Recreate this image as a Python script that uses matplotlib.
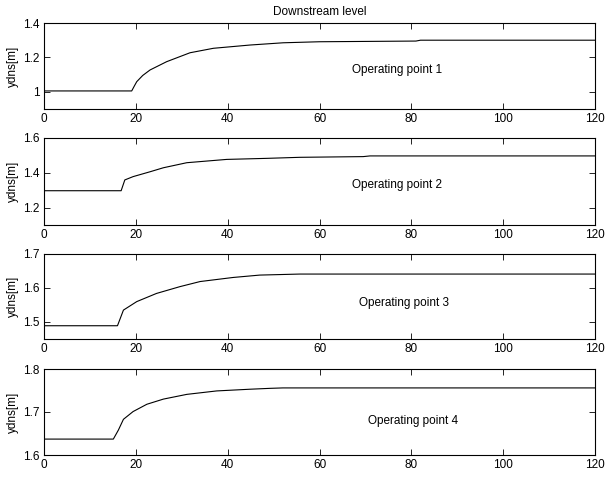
import matplotlib.pyplot as plt

plt.rcParams['font.family'] = ['Liberation Sans', 'DejaVu Sans']
plt.rcParams['font.size'] = 8.5

# time [s] / level [m], one set per operating point
t1 = [0, 19.1, 19.7, 20.2, 21.5, 23.1, 26.7, 31.8, 36.9, 44.9, 52.1, 60, 81, 82, 120]
y1 = [1.005, 1.005, 1.035, 1.059, 1.095, 1.127, 1.175, 1.227, 1.253, 1.272, 1.285, 1.291, 1.295, 1.300, 1.300]

t2 = [0, 16.8, 17.6, 19.4, 23.1, 26, 31.1, 39.8, 48.5, 55.7, 69.5, 71, 120]
y2 = [1.297, 1.297, 1.359, 1.378, 1.406, 1.429, 1.458, 1.477, 1.483, 1.489, 1.493, 1.497, 1.497]

t3 = [0, 16.0, 17.3, 20.2, 24.5, 29.6, 34, 41.2, 47, 55.7, 120]
y3 = [1.489, 1.489, 1.535, 1.560, 1.584, 1.604, 1.619, 1.631, 1.638, 1.641, 1.641]

t4 = [0, 15.1, 16.2, 17.3, 19.4, 22.4, 26, 31.1, 37.6, 44.9, 49.2, 52, 120]
y4 = [1.637, 1.637, 1.658, 1.683, 1.701, 1.718, 1.730, 1.741, 1.749, 1.753, 1.755, 1.756, 1.756]

series = [(t1, y1), (t2, y2), (t3, y3), (t4, y4)]
ylims = [(0.9, 1.4), (1.1, 1.6), (1.45, 1.7), (1.6, 1.8)]
yticks = [[1, 1.2, 1.4], [1.2, 1.4, 1.6], [1.5, 1.6, 1.7], [1.6, 1.7, 1.8]]
ytlabels = [['1', '1.2', '1.4'], ['1.2', '1.4', '1.6'], ['1.5', '1.6', '1.7'], ['1.6', '1.7', '1.8']]
labels = ['Operating point 1', 'Operating point 2', 'Operating point 3', 'Operating point 4']
label_pos = [(67, 1.127), (67, 1.33), (68.6, 1.556), (70.6, 1.679)]

fig = plt.figure(figsize=(6.05, 4.79), dpi=100)
W, H = 605, 479
tops = [23, 138, 254, 369]
bots = [109, 225, 339, 455]

for i in range(4):
    ax = fig.add_axes([44 / W, 1 - bots[i] / H, (595 - 44) / W, (bots[i] - tops[i]) / H])
    t, y = series[i]
    ax.plot(t, y, color='black', lw=0.8)
    ax.set_xlim(0, 120)
    ax.set_ylim(*ylims[i])
    ax.set_xticks(range(0, 121, 20))
    ax.set_yticks(yticks[i])
    ax.set_yticklabels(ytlabels[i])
    ax.tick_params(direction='in', top=True, right=True, length=4, width=0.6, pad=3)
    for s in ax.spines.values():
        s.set_linewidth(0.8)
    ax.set_ylabel('ydns[m]', labelpad=3)
    ax.text(label_pos[i][0], label_pos[i][1], labels[i], va='center', ha='left')
    if i == 0:
        ax.set_title('Downstream level', fontsize=8.5, pad=6)

fig.savefig('out.png', dpi=100)
